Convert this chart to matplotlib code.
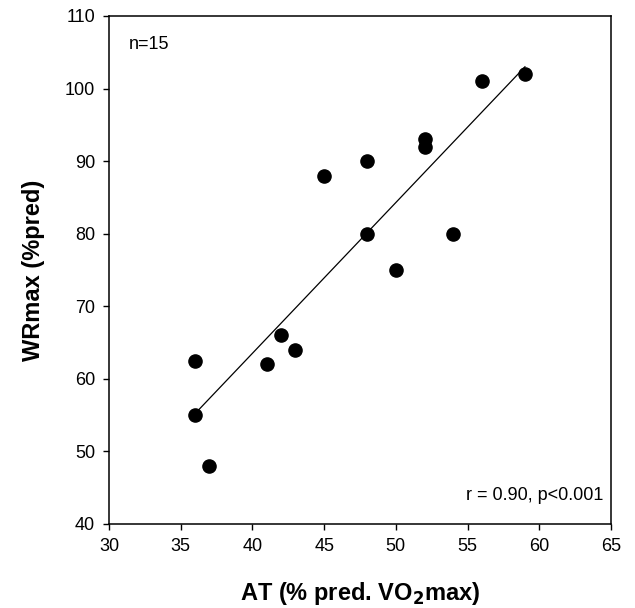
import numpy as np
import matplotlib
matplotlib.use('Agg')
import matplotlib.pyplot as plt

plt.rcParams['font.family'] = ['Liberation Sans', 'DejaVu Sans']

# AT (% pred. VO2max) vs WRmax (%pred), one point per subject
at_pred = [36, 36, 37, 41, 42, 43, 45, 48, 48, 50, 52, 52, 54, 56, 59]
wr_max = [62.5, 55, 48, 62, 66, 64, 88, 90, 80, 75, 93, 92, 80, 101, 102]
x_ticks = [30, 35, 40, 45, 50, 55, 60, 65]
y_ticks = [40, 50, 60, 70, 80, 90, 100, 110]

fig = plt.figure(figsize=(6.35, 6.08), dpi=100)
ax = fig.add_axes([0.1717, 0.1382, 0.7905, 0.8355])

ax.scatter(at_pred, wr_max, s=90, color='black', zorder=3)

# least squares fit, drawn over the data range
slope, intercept = np.polyfit(at_pred, wr_max, 1)
xs = np.array([min(at_pred), max(at_pred)])
ax.plot(xs, slope * xs + intercept, color='black', linewidth=0.9)

ax.set_xlim(30, 65)
ax.set_ylim(40, 110)
ax.set_xticks(x_ticks)
ax.set_yticks(y_ticks)
ax.tick_params(direction='out', length=4, width=1, labelsize=13, colors='black', pad=6)
for s in ax.spines.values():
    s.set_linewidth(1.1)

ax.set_xlabel('AT (% pred. VO$_{\\mathbf{2}}$max)', fontsize=17, fontweight='bold', labelpad=18)
ax.set_ylabel('WRmax (%pred)', fontsize=17, fontweight='bold', labelpad=14)

ax.text(0.04, 0.96, 'n=15', transform=ax.transAxes, fontsize=13, va='top', ha='left')
ax.text(0.985, 0.04, 'r = 0.90, p<0.001', transform=ax.transAxes, fontsize=13, va='bottom', ha='right')

fig.savefig('out.png', dpi=100)
